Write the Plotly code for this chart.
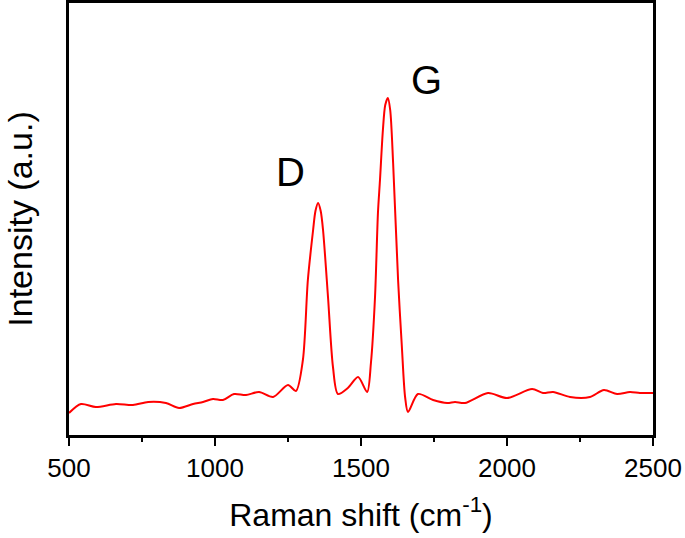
import plotly.graph_objects as go

wavenumber = [500, 541, 592, 661, 719, 771, 832, 877, 925, 959, 993, 1027, 1065, 1106,
              1151, 1199, 1250, 1277, 1301, 1318, 1336, 1344, 1353, 1362, 1370, 1387,
              1404, 1421, 1455, 1490, 1521, 1534, 1548, 1558, 1565, 1575, 1583, 1592,
              1600, 1610, 1627, 1640, 1651, 1661, 1695, 1747, 1795, 1822, 1856, 1935,
              2000, 2086, 2123, 2158, 2216, 2284, 2332, 2377, 2421, 2455, 2497, 2500]
intensity = [22, 31, 28, 31, 30, 33, 32, 27, 31, 33, 36, 35, 41, 40,
             43, 38, 50, 44, 75, 155, 205, 224, 232, 224, 205, 138,
             68, 41, 47, 58, 43, 72, 138, 222, 255, 305, 330, 337,
             325, 272, 155, 88, 38, 23, 41, 35, 32, 33, 32, 42,
             37, 46, 42, 43, 38, 38, 45, 41, 43, 42, 42, 42]

peak_labels = ["D", "G"]
peak_x = [1257, 1726]
peak_y = [263, 355]

x_ticks = [500, 1000, 1500, 2000, 2500]

FONT = "Arial, 'Liberation Sans', sans-serif"

fig = go.Figure()
fig.add_trace(go.Scatter(x=wavenumber, y=intensity, mode="lines",
                         line=dict(color="#ff0000", width=2, shape="spline", smoothing=0.8),
                         hoverinfo="skip", showlegend=False))

for lab, px, py in zip(peak_labels, peak_x, peak_y):
    fig.add_annotation(x=px, y=py, text=lab, showarrow=False,
                       font=dict(family=FONT, size=40, color="black"))

fig.update_layout(
    width=685, height=538,
    margin=dict(l=69, r=32, t=3, b=103),
    plot_bgcolor="white", paper_bgcolor="white",
    font=dict(family=FONT, color="black"),
)
fig.update_xaxes(
    range=[500, 2500], tickvals=x_ticks, ticks="outside", ticklen=8, tickwidth=2,
    tickcolor="black", showline=True, linewidth=2.5, linecolor="black", mirror=True,
    showgrid=False, zeroline=False, tickfont=dict(size=26, family=FONT),
    automargin=False,
    minor=dict(tickvals=[750, 1250, 1750, 2250], ticks="outside", ticklen=4,
               tickwidth=2, tickcolor="black"),
    title=dict(text="Raman shift (cm<sup>-1</sup>)", font=dict(size=32, family=FONT), standoff=22),
)
fig.update_yaxes(
    range=[0, 432], showticklabels=False, ticks="", showline=True, linewidth=2.5,
    linecolor="black", mirror=True, showgrid=False, zeroline=False, automargin=False,
    title=dict(text="Intensity (a.u.)", font=dict(size=34, family=FONT), standoff=24),
)

fig.write_html("out.html", config={"displayModeBar": False},
               post_script="document.body.style.margin='0';")
